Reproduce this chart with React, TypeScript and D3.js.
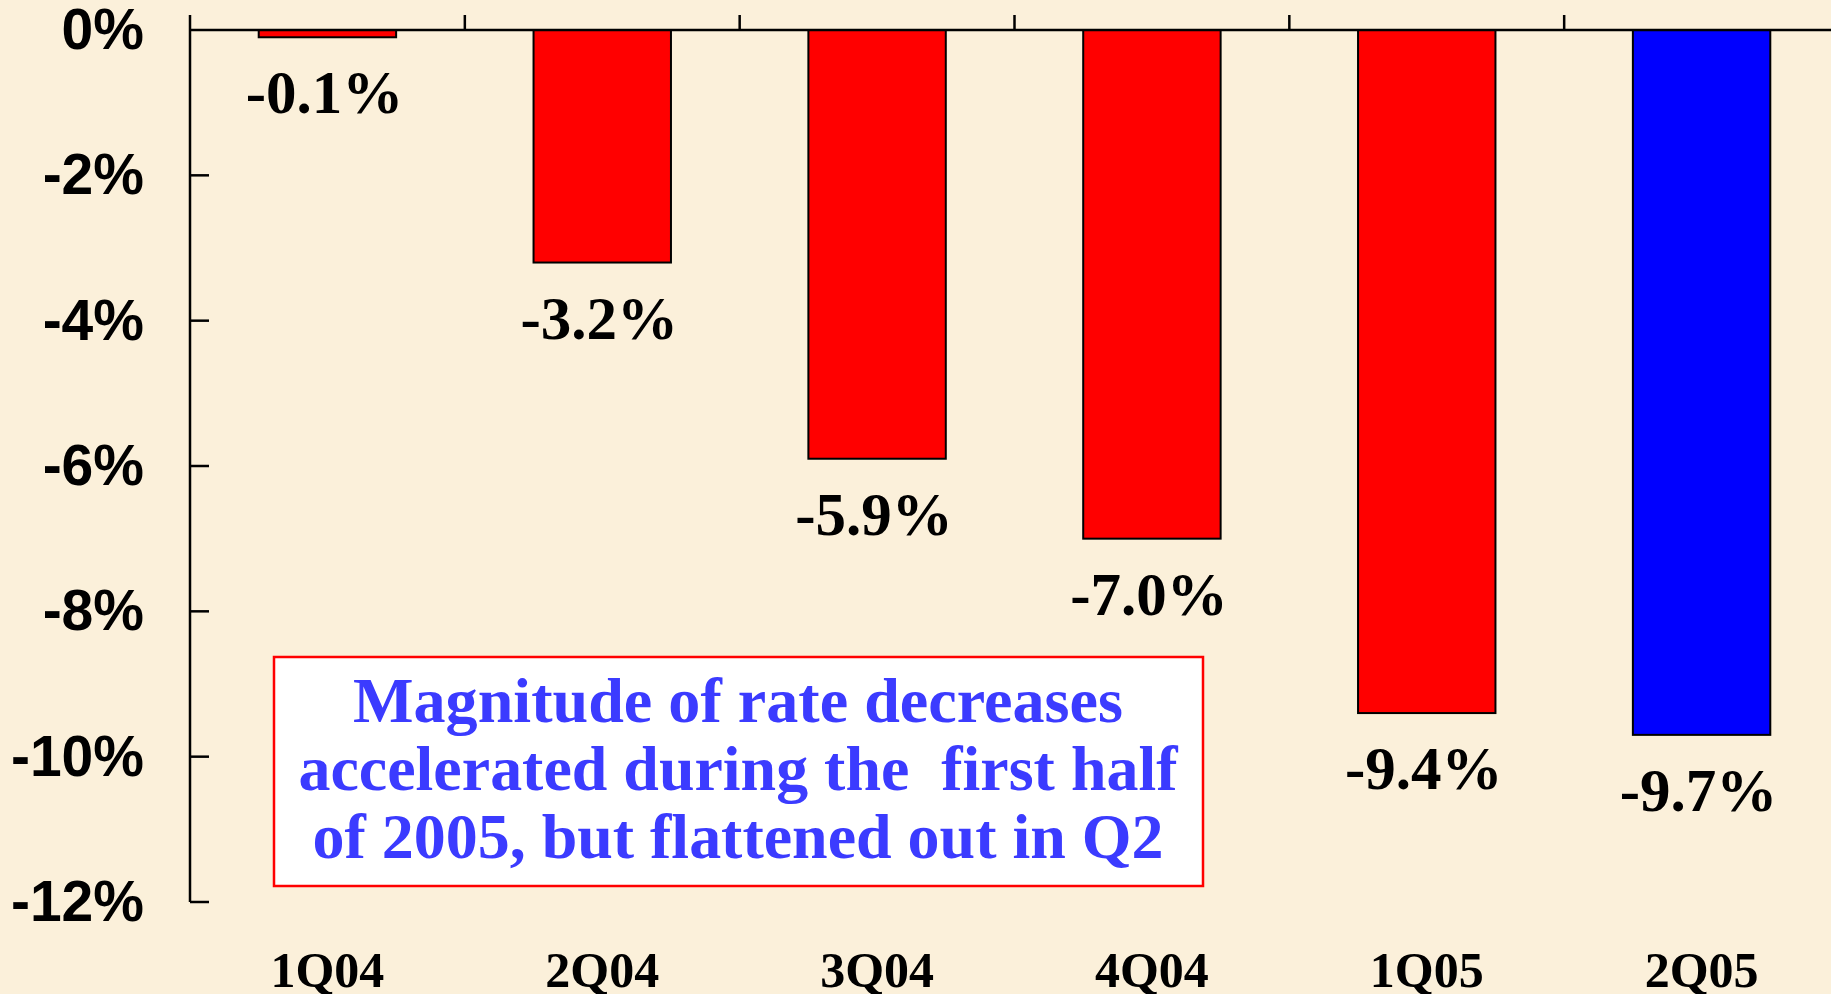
import React from "react";
import * as d3 from "d3";

const categories = ["1Q04", "2Q04", "3Q04", "4Q04", "1Q05", "2Q05"];
const values = [-0.1, -3.2, -5.9, -7.0, -9.4, -9.7];
const barColors = ["#FF0000", "#FF0000", "#FF0000", "#FF0000", "#FF0000", "#0000FF"];
const yTicks = [0, -2, -4, -6, -8, -10, -12];
const noteLines = [
  "Magnitude of rate decreases",
  "accelerated during the  first half",
  "of 2005, but flattened out in Q2",
];

const W = 1831;
const H = 994;

export default function App() {
  const x = d3
    .scaleBand<string>()
    .domain(categories)
    .range([190, 1839])
    .paddingInner(0.5)
    .paddingOuter(0.25);
  const y = d3.scaleLinear().domain([0, -12]).range([30, 902]);
  const step = x.step();
  const serif = "'Liberation Serif', 'Times New Roman', serif";
  const sans = "'Liberation Sans', Arial, sans-serif";
  const boundaries = categories.slice(1).map((c) => (x(c) as number) - step * 0.25);
  const noteW = [770, 879, 851];
  const noteY = [722, 790, 858];

  return (
    <svg
      width={W}
      height={H}
      style={{ position: "fixed", left: 0, top: 0, display: "block" }}
    >
      <rect x={0} y={0} width={W} height={H} fill="#FBF0DA" />
      {/* bars */}
      {values.map((v, i) => (
        <rect
          key={categories[i]}
          x={x(categories[i])}
          y={y(0)}
          width={x.bandwidth()}
          height={y(v) - y(0)}
          fill={barColors[i]}
          stroke="#000"
          strokeWidth={2}
        />
      ))}
      {/* zero line */}
      <line x1={190} x2={W} y1={y(0)} y2={y(0)} stroke="#000" strokeWidth={2.5} />
      {/* top category ticks */}
      {boundaries.map((b, i) => (
        <line key={i} x1={b} x2={b} y1={y(0)} y2={15} stroke="#000" strokeWidth={2.5} />
      ))}
      {/* y axis */}
      <line x1={190} x2={190} y1={15} y2={y(-12)} stroke="#000" strokeWidth={2.5} />
      {yTicks.map((t) => (
        <g key={t}>
          {t !== 0 && (
            <line x1={190} x2={209} y1={y(t)} y2={y(t)} stroke="#000" strokeWidth={2.5} />
          )}
          <text
            x={144}
            y={y(t) + 19}
            textAnchor="end"
            fontFamily={sans}
            fontWeight="bold"
            fontSize={57}
            fill="#000"
          >
            {t + "%"}
          </text>
        </g>
      ))}
      {/* value labels */}
      {values.map((v, i) => (
        <text
          key={"l" + i}
          x={(x(categories[i]) as number) + x.bandwidth() / 2 - 3}
          y={y(v) + 76}
          textAnchor="middle"
          fontFamily={serif}
          fontWeight="bold"
          fontSize={61}
          fill="#000"
        >
          {v.toFixed(1) + "%"}
        </text>
      ))}
      {/* category labels */}
      {categories.map((c) => (
        <text
          key={"c" + c}
          x={(x(c) as number) + x.bandwidth() / 2}
          y={987}
          textAnchor="middle"
          fontFamily={serif}
          fontWeight="bold"
          fontSize={50}
          fill="#000"
        >
          {c}
        </text>
      ))}
      {/* annotation box */}
      <rect x={274} y={657} width={929} height={229} fill="#FFFFFF" stroke="#FF0000" strokeWidth={2.5} />
      {noteLines.map((l, i) => (
        <text
          key={"n" + i}
          x={738}
          y={noteY[i]}
          textAnchor="middle"
          fontFamily={serif}
          fontWeight="bold"
          fontSize={63}
          fill="#3B3BFF"
          textLength={noteW[i]}
          lengthAdjust="spacingAndGlyphs"
          style={{ whiteSpace: "pre" }}
        >
          {l}
        </text>
      ))}
    </svg>
  );
}
